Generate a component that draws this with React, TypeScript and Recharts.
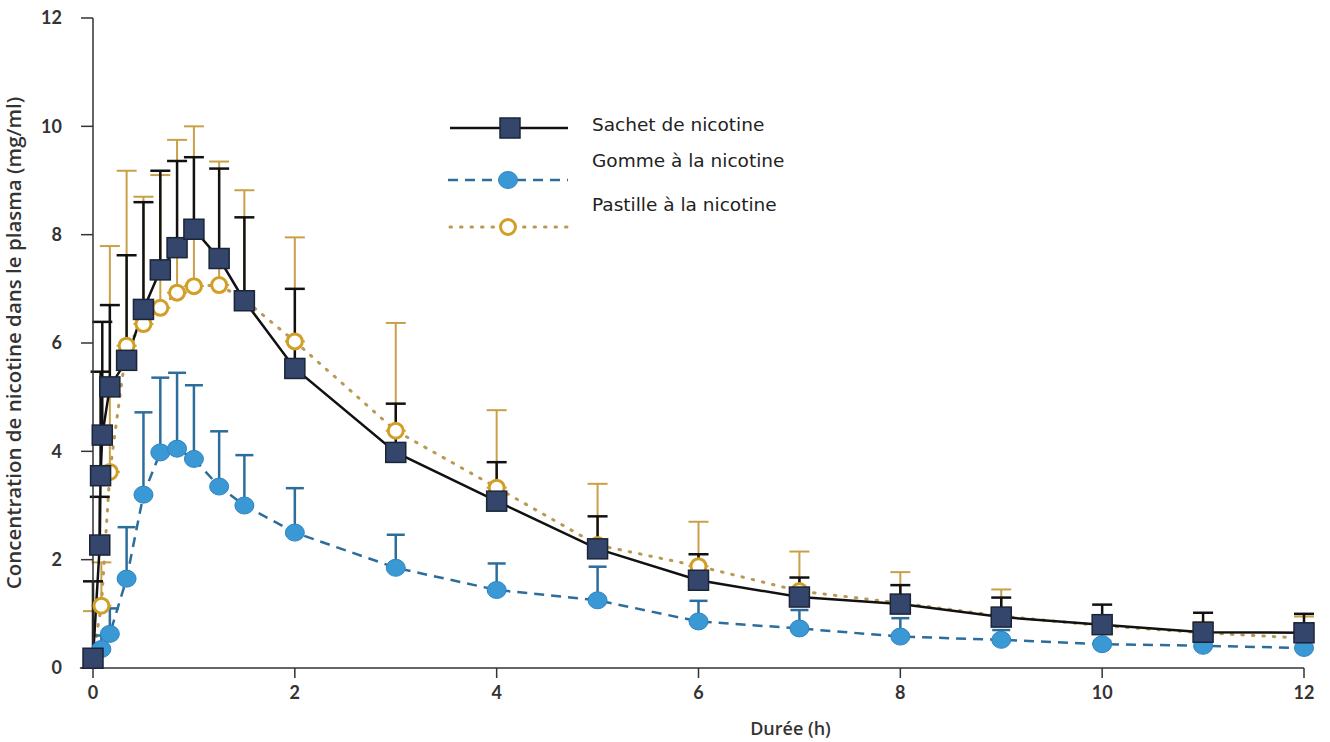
import React from "react";
import {
  LineChart,
  Line,
  XAxis,
  YAxis,
  ErrorBar,
  ReferenceLine,
} from "recharts";

// sampling times (h)
const times = [0, 0.083, 0.167, 0.333, 0.5, 0.667, 0.833, 1, 1.25, 1.5, 2, 3, 4, 5, 6, 7, 8, 9, 10, 11, 12];
const sachetTimes = [0, 0.067, 0.075, 0.092, 0.167, 0.333, 0.5, 0.667, 0.833, 1, 1.25, 1.5, 2, 3, 4, 5, 6, 7, 8, 9, 10, 11, 12];

// mean + upper SD bound
const sachetMean = [0.18, 2.27, 3.55, 4.3, 5.19, 5.68, 6.62, 7.35, 7.76, 8.1, 7.56, 6.78, 5.53, 3.98, 3.08, 2.2, 1.62, 1.31, 1.18, 0.94, 0.8, 0.66, 0.65];
const sachetUpper = [1.6, 3.16, 5.47, 6.39, 6.7, 7.62, 8.6, 9.18, 9.36, 9.43, 9.22, 8.32, 7.0, 4.88, 3.8, 2.8, 2.1, 1.67, 1.53, 1.3, 1.17, 1.02, 1.0];
const gommeMean = [0.2, 0.35, 0.63, 1.65, 3.2, 3.98, 4.05, 3.86, 3.35, 3.0, 2.5, 1.85, 1.44, 1.25, 0.86, 0.73, 0.58, 0.52, 0.44, 0.41, 0.37];
const gommeUpper = [0.3, 0.6, 1.1, 2.6, 4.72, 5.36, 5.45, 5.22, 4.37, 3.93, 3.32, 2.46, 1.93, 1.87, 1.24, 1.07, 0.92, 0.7, 0.5, 0.45, 0.4];
const pastilleMean = [0.2, 1.15, 3.62, 5.95, 6.35, 6.65, 6.93, 7.05, 7.07, 6.8, 6.03, 4.38, 3.33, 2.27, 1.88, 1.42, 1.2, 0.96, 0.78, 0.65, 0.55];
const pastilleUpper = [1.05, 1.95, 7.79, 9.18, 8.7, 9.1, 9.75, 10.0, 9.35, 8.82, 7.95, 6.37, 4.76, 3.4, 2.7, 2.15, 1.77, 1.45, 0.95, 0.85, 0.95];

const xTicks = [0, 2, 4, 6, 8, 10, 12];
const yTicks = [0, 2, 4, 6, 8, 10, 12];

const NAVY = "#34466b";
const BLUE = "#3a98d4";
const BLUE_DARK = "#2c6d9c";
const GOLD = "#c9a048";

type Pt = { t: number; v: number; err: [number, number] };

function build(t: number[], mean: number[], upper: number[]): Pt[] {
  return t.map((x, i) => ({ t: x, v: mean[i], err: [0, upper[i] - mean[i]] }));
}

const sachetData = build(sachetTimes, sachetMean, sachetUpper);
const gommeData = build(times, gommeMean, gommeUpper);
const pastilleData = build(times, pastilleMean, pastilleUpper);

const tickStyle = { fill: "#333", fontSize: 18, fontWeight: 700, fontFamily: "Lato, sans-serif" };
const titleFont = "'Open Sans', sans-serif";

function SquareDot(p: any) {
  if (p.cx == null || p.cy == null) return <g key={`s-${p.index}`} />;
  return (
    <rect key={`s-${p.index}`} x={p.cx - 10} y={p.cy - 10} width={20} height={20}
      fill={NAVY} stroke="#1c2438" strokeWidth={1.5} />
  );
}

function BlueDot(p: any) {
  if (p.cx == null || p.cy == null) return <g key={`b-${p.index}`} />;
  return <ellipse key={`b-${p.index}`} cx={p.cx} cy={p.cy} rx={9.5} ry={8.5} fill={BLUE} stroke="#2f85c0" strokeWidth={1} />;
}

function GoldDot(p: any) {
  if (p.cx == null || p.cy == null) return <g key={`g-${p.index}`} />;
  return <circle key={`g-${p.index}`} cx={p.cx} cy={p.cy} r={7.5} fill="#fff" stroke="#d29f26" strokeWidth={3} />;
}

function LegendBox() {
  const rowText = { fontFamily: "'DejaVu Sans', sans-serif", fontSize: 18.5, fill: "#222" };
  return (
    <svg width={1330} height={742} style={{ position: "absolute", left: 0, top: 0, pointerEvents: "none" }}>
      {/* Sachet */}
      <line x1={450} y1={128} x2={568} y2={128} stroke="#111" strokeWidth={2.5} />
      <rect x={500} y={118} width={20} height={20} fill={NAVY} stroke="#1c2438" strokeWidth={1.5} />
      <text x={592} y={131} {...rowText}>Sachet de nicotine</text>
      {/* Gomme */}
      <line x1={448} y1={180} x2={568} y2={180} stroke={BLUE_DARK} strokeWidth={2.5} strokeDasharray="10 7" />
      <ellipse cx={508} cy={180} rx={9.5} ry={8.5} fill={BLUE} stroke="#2f85c0" />
      <text x={592} y={167} {...rowText}>Gomme à la nicotine</text>
      {/* Pastille */}
      <line x1={450} y1={227} x2={568} y2={227} stroke="#b99a55" strokeWidth={3} strokeDasharray="1.5 9" strokeLinecap="round" />
      <circle cx={508} cy={227} r={7.5} fill="#fff" stroke="#d29f26" strokeWidth={3} />
      <text x={592} y={211} {...rowText}>Pastille à la nicotine</text>
    </svg>
  );
}

export default function App() {
  return (
    <div style={{ position: "absolute", left: 0, top: 0, width: 1330, height: 742, background: "#fff" }}>
      <LineChart width={1330} height={742} margin={{ top: 18, right: 26, bottom: 0, left: 0 }}>
        <XAxis
          type="number"
          dataKey="t"
          domain={[0, 12]}
          ticks={xTicks}
          allowDuplicatedCategory={false}
          height={74}
          stroke="#333"
          strokeWidth={1.5}
          tickSize={10}
          tickMargin={8}
          tick={tickStyle}
          label={{ value: "Durée (h)", position: "insideBottom", offset: 7, dx: 92, style: { fontFamily: titleFont, fontSize: 18, fontWeight: 600, fill: "#333" } }}
        />
        <YAxis
          type="number"
          domain={[0, 12]}
          ticks={yTicks}
          width={93}
          stroke="#333"
          strokeWidth={1.5}
          tickSize={12}
          tickMargin={19}
          tick={tickStyle}
          label={{ value: "Concentration de nicotine dans le plasma (mg/ml)", angle: -90, position: "insideLeft", offset: 14, style: { textAnchor: "middle", fontFamily: titleFont, fontSize: 20.5, fontWeight: 600, fill: "#333" } }}
        />
        <ReferenceLine segment={[{ x: -0.13, y: 0 }, { x: 0, y: 0 }]} stroke="#333" strokeWidth={1.5} ifOverflow="visible" />

        <Line
          data={pastilleData}
          dataKey="v"
          stroke="#b99a55"
          strokeWidth={3}
          strokeDasharray="1.5 9"
          strokeLinecap="round"
          dot={GoldDot}
          activeDot={false}
          isAnimationActive={false}
          type="linear"
        >
          <ErrorBar dataKey="err" direction="y" width={10} stroke={GOLD} strokeWidth={2} />
        </Line>
        <Line
          data={gommeData}
          dataKey="v"
          stroke={BLUE_DARK}
          strokeWidth={2.5}
          strokeDasharray="10 7"
          dot={BlueDot}
          activeDot={false}
          isAnimationActive={false}
          type="linear"
        >
          <ErrorBar dataKey="err" direction="y" width={9} stroke={BLUE_DARK} strokeWidth={2.5} />
        </Line>
        <Line
          data={sachetData}
          dataKey="v"
          stroke="#111"
          strokeWidth={2.5}
          dot={SquareDot}
          activeDot={false}
          isAnimationActive={false}
          type="linear"
        >
          <ErrorBar dataKey="err" direction="y" width={10} stroke="#111" strokeWidth={2.5} />
        </Line>
      </LineChart>
      <LegendBox />
    </div>
  );
}
